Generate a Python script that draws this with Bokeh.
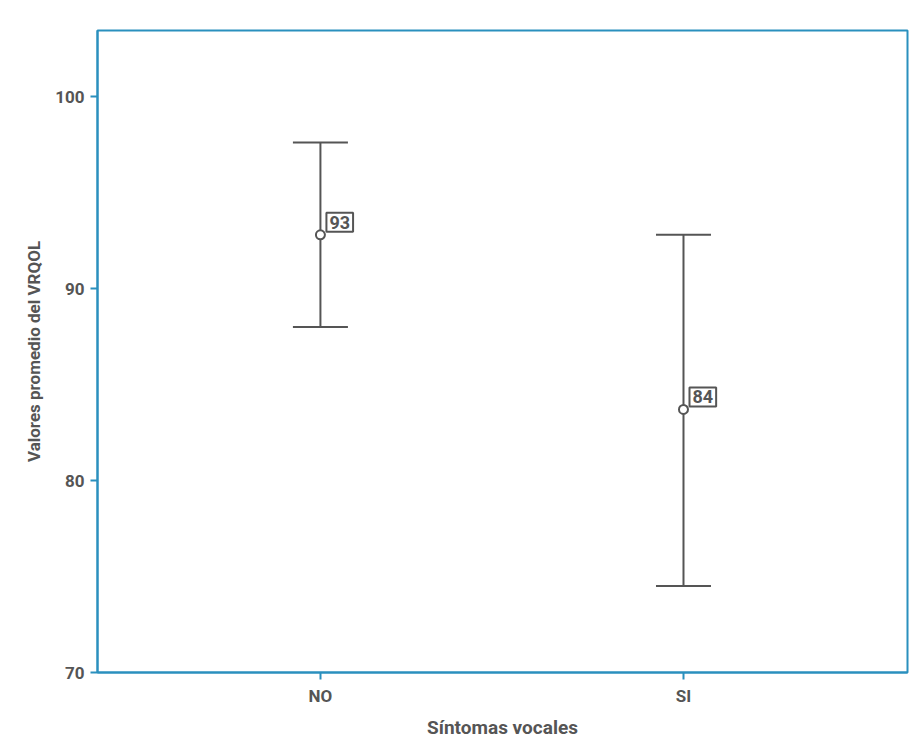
from bokeh.plotting import figure
from bokeh.models import Range1d, FixedTicker, Label, Whisker, ColumnDataSource
from bokeh.embed import file_html
from bokeh.resources import INLINE

categories = ["NO", "SI"]
means = [92.8, 83.7]
upper = [97.6, 92.8]
lower = [88.0, 74.5]
y_ticks = [70, 80, 90, 100]

xpos = list(range(len(categories)))
BLUE = "#2a90be"
GRAY = "#555555"
FONT = "Roboto"

p = figure(width=915, height=745, output_backend="svg", toolbar_location=None,
           x_range=Range1d(-0.614, 1.617), y_range=Range1d(70, 103.44),
           min_border_left=97, min_border_top=30, min_border_right=8, min_border_bottom=73)
p.xgrid.visible = False
p.ygrid.visible = False
p.outline_line_color = BLUE
p.outline_line_width = 2
p.background_fill_color = "white"
p.border_fill_color = "white"

for ax in (p.xaxis[0], p.yaxis[0]):
    ax.axis_line_color = BLUE
    ax.axis_line_width = 2
    ax.major_tick_line_color = BLUE
    ax.major_tick_line_width = 2
    ax.major_tick_out = 7
    ax.major_tick_in = 0
    ax.minor_tick_line_color = None
    ax.major_label_text_font = FONT
    ax.major_label_text_font_style = "bold"
    ax.major_label_text_font_size = "17px"
    ax.major_label_text_color = GRAY
    ax.axis_label_text_font = FONT
    ax.axis_label_text_font_style = "bold"
    ax.axis_label_text_color = GRAY

p.xaxis.ticker = FixedTicker(ticks=xpos)
p.xaxis.major_label_overrides = {i: c for i, c in zip(xpos, categories)}
p.xaxis.axis_label = "Síntomas vocales"
p.xaxis.axis_label_text_font_size = "19px"
p.xaxis.major_label_standoff = 6
p.xaxis.axis_label_standoff = 7
p.yaxis.ticker = FixedTicker(ticks=y_ticks)
p.yaxis.axis_label = "Valores promedio del VRQOL"
p.yaxis.axis_label_text_font_size = "17px"
p.yaxis.major_label_standoff = 6
p.yaxis.axis_label_standoff = 8

src = ColumnDataSource(dict(x=xpos, m=means, up=upper, lo=lower))
w = Whisker(base="x", upper="up", lower="lo", source=src,
            line_color=GRAY, line_width=2, dimension="height")
w.upper_head.size = 55
w.lower_head.size = 55
w.upper_head.line_color = GRAY
w.lower_head.line_color = GRAY
w.upper_head.line_width = 2
w.lower_head.line_width = 2
p.add_layout(w)

p.scatter("x", "m", source=src, size=9, fill_color="white", line_color=GRAY,
          line_width=2, marker="circle")

for x, m in zip(xpos, means):
    p.add_layout(Label(x=x, y=m, text=str(round(m)), x_offset=6, y_offset=3,
                       text_align="left", text_baseline="bottom",
                       text_font=FONT, text_font_style="bold", text_font_size="18px",
                       text_color=GRAY, padding=3,
                       border_line_color=GRAY, border_line_width=2,
                       background_fill_color="white"))

open("out.html", "w").write(file_html(p, INLINE))
